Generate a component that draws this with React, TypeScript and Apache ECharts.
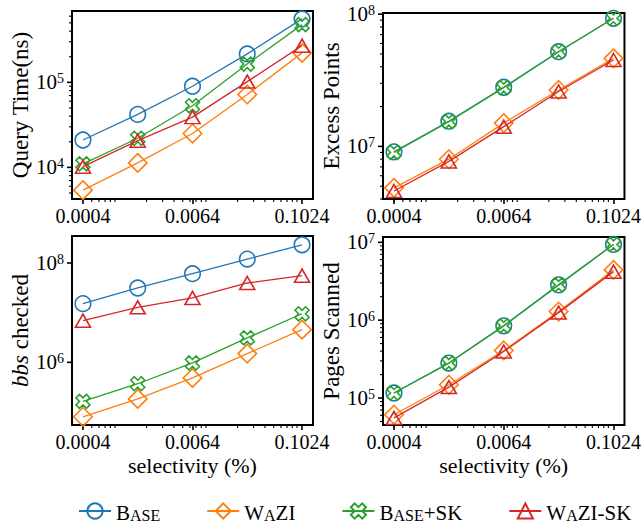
import React, { useEffect, useRef } from 'react';
import * as echarts from 'echarts';

// ---------- data ----------
const selectivity = ['0.0004', '0.0016', '0.0064', '0.0256', '0.1024'];
const selectivityLabelIdx = [0, 2, 4];
const seriesNames = ['Base', 'WaZI', 'Base+SK', 'WaZI-SK'];

const queryTimeBase = [2.1e4, 4.2e4, 9.0e4, 2.16e5, 5.57e5];
const queryTimeWaZI = [5.4e3, 1.13e4, 2.5e4, 7.2e4, 2.22e5];
const queryTimeBaseSK = [1.1e4, 2.2e4, 5.3e4, 1.64e5, 4.77e5];
const queryTimeWaZISK = [1.02e4, 2.06e4, 3.9e4, 1.02e5, 2.7e5];

const excessBase = [9.1e6, 1.55e7, 2.8e7, 5.2e7, 9.3e7];
const excessWaZI = [4.86e6, 8.0e6, 1.5e7, 2.67e7, 4.63e7];
const excessBaseSK = [9.0e6, 1.54e7, 2.78e7, 5.2e7, 9.3e7];
const excessWaZISK = [4.6e6, 7.7e6, 1.41e7, 2.6e7, 4.5e7];

const bbsBase = [1.52e7, 3.14e7, 6.1e7, 1.2e8, 2.33e8];
const bbsWaZI = [8.0e4, 1.83e5, 4.85e5, 1.5e6, 4.55e6];
const bbsBaseSK = [1.63e5, 3.7e5, 9.7e5, 3.1e6, 9.5e6];
const bbsWaZISK = [6.9e6, 1.28e7, 1.98e7, 3.96e7, 5.55e7];

const pagesBase = [1.16e5, 2.81e5, 8.45e5, 2.84e6, 9.4e6];
const pagesWaZI = [6.1e4, 1.48e5, 4.08e5, 1.29e6, 4.42e6];
const pagesBaseSK = [1.16e5, 2.81e5, 8.45e5, 2.84e6, 9.4e6];
const pagesWaZISK = [5.55e4, 1.38e5, 3.95e5, 1.25e6, 4.2e6];

// ---------- styling ----------
const FONT = '"Liberation Serif", "DejaVu Serif", serif';
const COLORS = ['#1f77b4', '#ff7f0e', '#2ca02c', '#d62728'];
const XSYM = 'path://M3,0L2,1L1,0L0,1L1,2L0,3L1,4L2,3L3,4L4,3L3,2L4,1Z';
const SYMBOLS = ['circle', 'diamond', XSYM, 'triangle'];
const SYMSIZE: any[] = [15.5, 18.5, 14, [15, 13]];

const GRIDS = [
  { left: 72, top: 11, width: 241, height: 188 },
  { left: 383, top: 13, width: 243, height: 186 },
  { left: 72, top: 236, width: 241, height: 189 },
  { left: 383, top: 237, width: 243, height: 188 },
];

const panels = [
  { title: 'Query Time(ns)', data: [queryTimeBase, queryTimeWaZI, queryTimeBaseSK, queryTimeWaZISK], min: 4250, max: 6.9e5, step: 1, minor: true, gap: 38 },
  { title: 'Excess Points', data: [excessBase, excessWaZI, excessBaseSK, excessWaZISK], min: 4.0e6, max: 1.02e8, step: 1, minor: true, gap: 37 },
  { title: '{i|bbs} checked', data: [bbsBase, bbsWaZI, bbsBaseSK, bbsWaZISK], min: 5.46e4, max: 3.5e8, step: 2, minor: false, gap: 38 },
  { title: 'Pages Scanned', data: [pagesBase, pagesWaZI, pagesBaseSK, pagesWaZISK], min: 4.5e4, max: 1.17e7, step: 1, minor: true, gap: 37 },
];

const legendLabels: Record<string, string> = {
  'Base': '{b|B}{s|ASE}',
  'WaZI': '{b|W}{s|A}{b|ZI}',
  'Base+SK': '{b|B}{s|ASE}{b|+SK}',
  'WaZI-SK': '{b|W}{s|A}{b|ZI-SK}',
};

const X_MIN = -0.2;
const X_MAX = selectivity.length - 1 + 0.2;

function isPow10(v: number) {
  const e = Math.log10(v);
  return Math.abs(e - Math.round(e)) < 1e-6;
}

function buildOption() {
  const grid = GRIDS.map((g) => ({ ...g, show: true, borderColor: '#000', borderWidth: 2, backgroundColor: 'transparent' }));
  const xAxis = GRIDS.map((_, g) => ({
    type: 'value',
    gridIndex: g,
    min: X_MIN,
    max: X_MAX,
    axisLine: { show: false },
    splitLine: { show: false },
    axisTick: { show: true, customValues: selectivityLabelIdx, length: 5, lineStyle: { color: '#000', width: 1.6 } },
    axisLabel: {
      customValues: selectivityLabelIdx,
      formatter: (v: number) => selectivity[Math.round(v)] ?? '',
      fontFamily: FONT,
      fontSize: 20,
      color: '#000',
      margin: 7,
    },
    name: g >= 2 ? 'selectivity (%)' : '',
    nameLocation: 'middle',
    nameGap: 29,
    nameTextStyle: { fontFamily: FONT, fontSize: 22, color: '#000' },
  }));
  const yAxis = panels.map((p, g) => ({
    type: 'log',
    gridIndex: g,
    min: p.min,
    max: p.max,
    axisLine: { show: false },
    splitLine: { show: false },
    axisTick: { show: false },
    axisLabel: {
      formatter: (v: number) => {
        if (!isPow10(v)) return '';
        const e = Math.round(Math.log10(v));
        if (e % p.step !== 0) return '';
        return `{b|10}{s|${e}}`;
      },
      margin: 8,
      rich: {
        b: { fontFamily: FONT, fontSize: 21, color: '#000' },
        s: { fontFamily: FONT, fontSize: 14, color: '#000', verticalAlign: 'top' },
      },
    },
    name: p.title,
    nameLocation: 'middle',
    nameGap: p.gap,
    nameTextStyle: {
      fontFamily: FONT,
      fontSize: 23,
      color: '#000',
      rich: { i: { fontFamily: FONT, fontSize: 23, fontStyle: 'italic', color: '#000' } },
    },
  }));
  const series: any[] = [];
  panels.forEach((p, g) => {
    p.data.forEach((vals, s) => {
      series.push({
        type: 'line',
        name: seriesNames[s],
        xAxisIndex: g,
        yAxisIndex: g,
        data: vals.map((v, i) => [i, v]),
        symbol: SYMBOLS[s],
        symbolSize: SYMSIZE[s],
        showAllSymbol: true,
        lineStyle: { color: COLORS[s], width: 1.3 },
        itemStyle: { color: 'rgba(255,255,255,0)', borderColor: COLORS[s], borderWidth: 1.6 },
        emphasis: { disabled: true },
        z: 2 + s,
      });
    });
  });
  return {
    animation: false,
    backgroundColor: '#fff',
    grid,
    xAxis,
    yAxis,
    series,
    legend: {
      left: 73,
      top: 494,
      itemWidth: 32,
      itemHeight: 19,
      itemGap: 46,
      selectedMode: false,
      data: seriesNames,
      formatter: (name: string) => legendLabels[name] ?? name,
      textStyle: {
        fontFamily: FONT,
        fontSize: 21,
        lineHeight: 24,
        color: '#000',
        rich: {
          b: { fontFamily: FONT, fontSize: 21, lineHeight: 24, color: '#000', verticalAlign: 'bottom' },
          s: { fontFamily: FONT, fontSize: 16, lineHeight: 24, color: '#000', verticalAlign: 'bottom' },
        },
      },
    },
  };
}

export default function App() {
  const ref = useRef<HTMLDivElement>(null);
  useEffect(() => {
    const el = ref.current!;
    const chart = echarts.init(el, null, { renderer: 'svg' });
    chart.setOption(buildOption() as any);

    // minor ticks (x: log decades, y: log decades), positioned via the chart's own scales
    const base = parseFloat(selectivity[0]);
    const ratio = parseFloat(selectivity[1]) / base;
    const xMinor: number[] = [];
    for (let d = -5; d <= 0; d++) {
      for (let m = 2; m <= 9; m++) {
        const idx = Math.log((m * Math.pow(10, d)) / base) / Math.log(ratio);
        if (idx > X_MIN && idx < X_MAX) xMinor.push(idx);
      }
    }
    const graphics: any[] = [];
    panels.forEach((p, g) => {
      const G = GRIDS[g];
      const bottom = G.top + G.height;
      xMinor.forEach((v) => {
        const pt = chart.convertToPixel({ gridIndex: g } as any, [v, p.min]) as number[];
        graphics.push({
          type: 'line', silent: true,
          shape: { x1: pt[0], y1: bottom, x2: pt[0], y2: bottom + 3 },
          style: { stroke: '#000', lineWidth: 1.1 },
        });
      });
      const e0 = Math.floor(Math.log10(p.min));
      const e1 = Math.ceil(Math.log10(p.max));
      for (let e = e0; e <= e1; e++) {
        for (let m = 1; m <= 9; m++) {
          if (m === 1 && e % p.step !== 0) continue;
          if (m > 1 && !p.minor) continue;
          const v = m * Math.pow(10, e);
          if (v < p.min || v > p.max) continue;
          const pt = chart.convertToPixel({ gridIndex: g } as any, [0, v]) as number[];
          const len = m === 1 ? 5 : 3;
          graphics.push({
            type: 'line', silent: true,
            shape: { x1: G.left - len, y1: pt[1], x2: G.left, y2: pt[1] },
            style: { stroke: '#000', lineWidth: m === 1 ? 1.6 : 1.1 },
          });
        }
      }
    });
    chart.setOption({ graphic: graphics });
    return () => chart.dispose();
  }, []);
  return (
    <div
      ref={ref}
      style={{ position: 'absolute', left: 0, top: 0, width: 644, height: 525, background: '#fff' }}
    />
  );
}
